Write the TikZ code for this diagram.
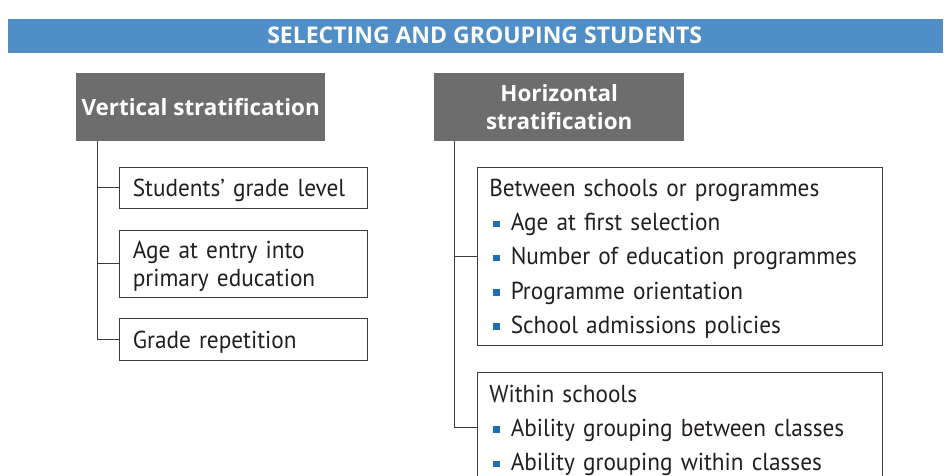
\documentclass[tikz,border=0pt]{standalone}
\usepackage{fontspec}
\setmainfont[FakeStretch=0.95]{PT Sans}
\newfontfamily\headfont{Open Sans}
\definecolor{bandblue}{HTML}{4F8EC6}
\definecolor{headgray}{HTML}{6D6D6D}
\definecolor{bullblue}{HTML}{1F6DB6}
\definecolor{linegray}{HTML}{3A3A3A}
\definecolor{txtcol}{HTML}{231F20}
\newcommand\bitem{\hspace*{4pt}\textcolor{bullblue}{\rule[3.5pt]{6.5pt}{6.5pt}}\hspace{11pt}}
\newcommand\tstrut{\rule{0pt}{1em}}
\newcommand\bstrut{\rule[-0.3em]{0pt}{0.3em}}
\begin{document}
\begin{tikzpicture}[x=1pt,y=-1pt,
  box/.style={draw=linegray, line width=1.1pt, fill=white, anchor=north west,
    inner xsep=13pt, inner ysep=0pt, align=left, text=txtcol,
    execute at begin node=\tstrut, execute at end node=\bstrut},
  lbox/.style={box, minimum width=248pt, text width=222pt,
    font=\fontsize{24.5}{28}\selectfont},
  rbox/.style={box, minimum width=405pt, inner xsep=12pt, text width=381pt,
    font=\fontsize{24.5}{34.25}\selectfont},
  head/.style={fill=headgray, anchor=north west, inner sep=0pt, text=white,
    align=center, font=\headfont\bfseries\fontsize{22.4}{28}\selectfont,
    minimum width=250pt, minimum height=68pt},
  conn/.style={draw=linegray, line width=0.9pt}
]
\useasboundingbox (0,0) rectangle (946,475);
\clip (0,0) rectangle (946,475);

% title band
\node[fill=bandblue, anchor=north west, minimum width=935pt, minimum height=34pt,
  inner sep=0pt] (band) at (8,19) {};
\node[text=white, font=\headfont\bfseries\fontsize{23}{26}\selectfont] (title)
  at ([xshift=9pt,yshift=1pt]band.center) {SELECTING AND GROUPING STUDENTS};

% vertical stratification
\node[head, minimum width=249pt] (vhead) at (76,73) {Vertical stratification};
\node[lbox, minimum height=41pt] (v1) at (119.3,166.7) {Students’ grade level};
\node[lbox, minimum height=67.5pt] (v2) at (119.3,229.5) {Age at entry into\\primary education};
\node[lbox, minimum height=41.7pt] (v3) at (119.3,318.3) {Grade repetition};

\coordinate (vtrunk) at ([xshift=21.5pt]vhead.south west);
\draw[conn] (vtrunk) |- (v3.west);
\draw[conn] (v1.west) -- (v1.west -| vtrunk);
\draw[conn] (v2.west) -- (v2.west -| vtrunk);

% horizontal stratification
\node[head] (hhead) at (434,73) {Horizontal\\stratification};
\node[rbox, minimum height=178.3pt] (h1) at (476.7,166.7)
  {Between schools or programmes\\
   \bitem Age at first selection\\
   \bitem Number of education programmes\\
   \bitem Programme orientation\\
   \bitem School admissions policies};
\node[rbox, minimum height=110pt] (h2) at (476.7,372.3)
  {Within schools\\
   \bitem Ability grouping between classes\\
   \bitem Ability grouping within classes};

\coordinate (htrunk) at ([xshift=20.5pt]hhead.south west);
\draw[conn] (htrunk) |- (h2.west);
\draw[conn] (h1.west) -- (h1.west -| htrunk);
\end{tikzpicture}
\end{document}
